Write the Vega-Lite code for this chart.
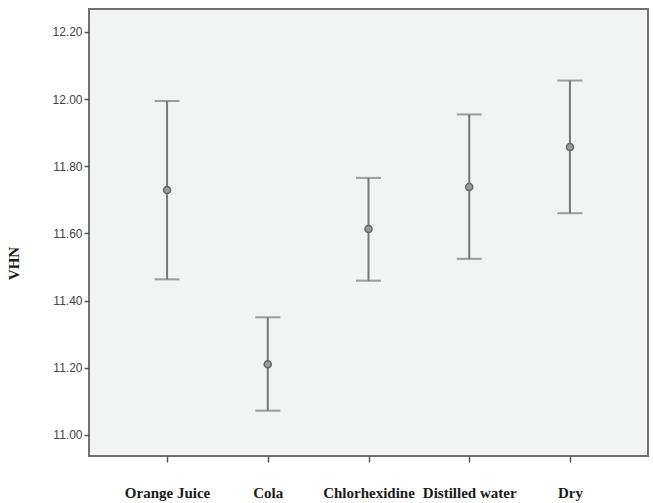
{
  "$schema": "https://vega.github.io/schema/vega-lite/v6.json",
  "width": 559,
  "height": 447,
  "autosize": {"type": "none"},
  "padding": {"left": 89, "top": 9, "right": 5, "bottom": 47},
  "background": "white",
  "config": {
    "view": {"fill": "#f2f3f3", "stroke": "#707070", "strokeWidth": 2}
  },
  "data": {
    "values": [
      {"group": "Orange Juice", "mean": 11.729, "lower": 11.463, "upper": 11.994},
      {"group": "Cola", "mean": 11.21, "lower": 11.072, "upper": 11.35},
      {"group": "Chlorhexidine", "mean": 11.613, "lower": 11.459, "upper": 11.765},
      {"group": "Distilled water", "mean": 11.738, "lower": 11.524, "upper": 11.954},
      {"group": "Dry", "mean": 11.857, "lower": 11.66, "upper": 12.055}
    ]
  },
  "encoding": {
    "x": {
      "field": "group",
      "type": "nominal",
      "sort": null,
      "scale": {"type": "point", "padding": 0.775},
      "axis": {
        "title": null,
        "labelAngle": 0,
        "domain": false,
        "ticks": true,
        "tickColor": "#555",
        "tickWidth": 1.5,
        "tickSize": 6,
        "labelPadding": 23,
        "labelFont": "Liberation Serif",
        "labelFontWeight": "bold",
        "labelFontSize": 15,
        "labelColor": "#1a1a1a",
        "labelLimit": 200
      }
    }
  },
  "layer": [
    {
      "mark": {"type": "rule", "color": "#777777", "strokeWidth": 2},
      "encoding": {
        "y": {
          "field": "lower",
          "type": "quantitative",
          "scale": {"domain": [10.937, 12.268], "nice": false, "zero": false},
          "axis": {
            "title": "VHN",
            "titleFont": "Liberation Serif",
            "titleFontWeight": "bold",
            "titleFontSize": 15,
            "titleColor": "#1a1a1a",
            "titlePadding": 30,
            "titleY": 254,
            "values": [11.0, 11.2, 11.4, 11.6, 11.8, 12.0, 12.2],
            "format": ".2f",
            "labelFont": "Liberation Sans",
            "labelFontSize": 12,
            "labelColor": "#444",
            "tickColor": "#555",
            "tickWidth": 1.5,
            "tickSize": 5,
            "labelPadding": 2,
            "domain": false,
            "grid": false
          }
        },
        "y2": {"field": "upper"}
      }
    },
    {
      "mark": {"type": "tick", "color": "#777777", "thickness": 2, "size": 25, "orient": "horizontal"},
      "encoding": {"y": {"field": "lower", "type": "quantitative"}}
    },
    {
      "mark": {"type": "tick", "color": "#777777", "thickness": 2, "size": 25, "orient": "horizontal"},
      "encoding": {"y": {"field": "upper", "type": "quantitative"}}
    },
    {
      "mark": {"type": "point", "shape": "circle", "size": 50, "filled": true, "fill": "#9a9a9a", "stroke": "#666", "strokeWidth": 1.5, "opacity": 1},
      "encoding": {"y": {"field": "mean", "type": "quantitative"}}
    }
  ]
}
